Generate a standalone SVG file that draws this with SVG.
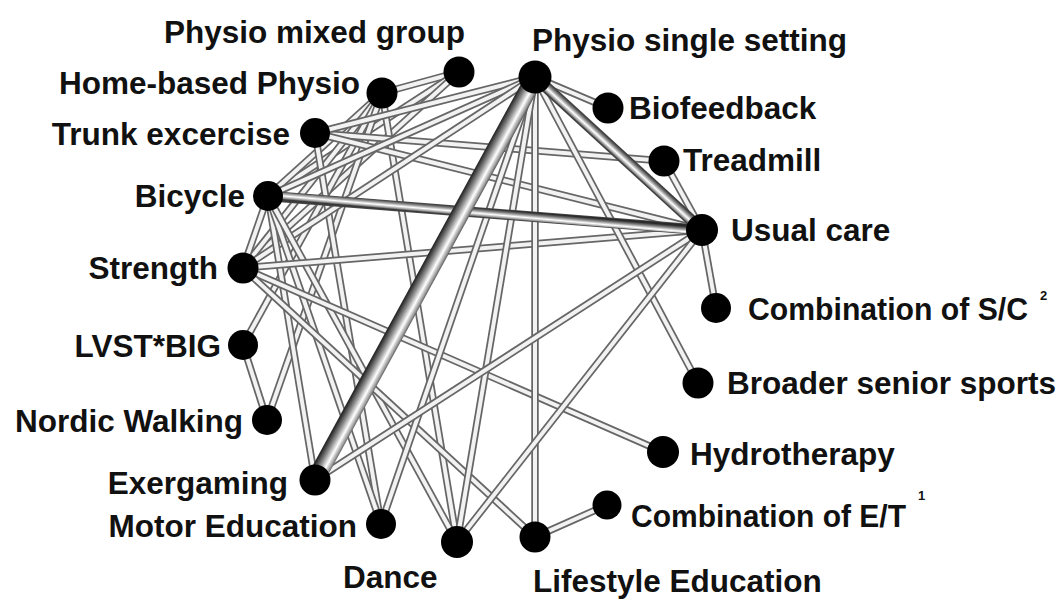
<svg xmlns="http://www.w3.org/2000/svg" width="1064" height="600" viewBox="0 0 1064 600">
<style>
.bg{fill:#ffffff}
.eo{stroke:#666666;stroke-width:7.5;fill:none;stroke-linecap:butt}
.ei{stroke:#f2f2f2;stroke-width:4;fill:none;stroke-linecap:butt}
.nd{fill:#000000}
.lb{font-family:"Liberation Sans",Arial,sans-serif;font-weight:bold;font-size:31.5px;fill:#111111}
.sup{font-family:"Liberation Sans",Arial,sans-serif;font-weight:bold;font-size:13px;fill:#111111}
.end{text-anchor:end}
</style>
<defs>
<linearGradient id="gEx" gradientUnits="userSpaceOnUse" x1="417.6" y1="275.2" x2="433.4" y2="283.8">
<stop offset="0" stop-color="#2a2a2a"/><stop offset="0.3" stop-color="#8a8a8a"/><stop offset="0.62" stop-color="#ffffff"/><stop offset="0.85" stop-color="#9a9a9a"/><stop offset="1" stop-color="#3a3a3a"/>
</linearGradient>
<linearGradient id="gUc" gradientUnits="userSpaceOnUse" x1="622.9" y1="150.3" x2="616.1" y2="157.7">
<stop offset="0" stop-color="#2a2a2a"/><stop offset="0.3" stop-color="#8a8a8a"/><stop offset="0.6" stop-color="#ffffff"/><stop offset="0.85" stop-color="#9a9a9a"/><stop offset="1" stop-color="#3a3a3a"/>
</linearGradient>
<linearGradient id="gBi" gradientUnits="userSpaceOnUse" x1="485.4" y1="208.5" x2="484.6" y2="217.5">
<stop offset="0" stop-color="#2a2a2a"/><stop offset="0.3" stop-color="#8a8a8a"/><stop offset="0.6" stop-color="#ffffff"/><stop offset="0.85" stop-color="#9a9a9a"/><stop offset="1" stop-color="#3a3a3a"/>
</linearGradient>
</defs>
<rect class="bg" x="0" y="0" width="1064" height="600"/>
<g id="connectors">
<g id="e-pss-bio"><line class="eo" x1="535" y1="77" x2="608" y2="108"/><line class="ei" x1="535" y1="77" x2="608" y2="108"/></g>
<g id="e-pmg-hbp"><line class="eo" x1="459" y1="72" x2="382" y2="93"/><line class="ei" x1="459" y1="72" x2="382" y2="93"/></g>
<g id="e-pmg-bic"><line class="eo" x1="459" y1="72" x2="268" y2="196"/><line class="ei" x1="459" y1="72" x2="268" y2="196"/></g>
<g id="e-pmg-str"><line class="eo" x1="459" y1="72" x2="243" y2="268"/><line class="ei" x1="459" y1="72" x2="243" y2="268"/></g>
<g id="e-hbp-bic"><line class="eo" x1="382" y1="93" x2="268" y2="196"/><line class="ei" x1="382" y1="93" x2="268" y2="196"/></g>
<g id="e-hbp-str"><line class="eo" x1="382" y1="93" x2="243" y2="268"/><line class="ei" x1="382" y1="93" x2="243" y2="268"/></g>
<g id="e-hbp-lvst"><line class="eo" x1="382" y1="93" x2="243" y2="345"/><line class="ei" x1="382" y1="93" x2="243" y2="345"/></g>
<g id="e-hbp-nw"><line class="eo" x1="382" y1="93" x2="267" y2="420"/><line class="ei" x1="382" y1="93" x2="267" y2="420"/></g>
<g id="e-hbp-dan"><line class="eo" x1="382" y1="93" x2="457" y2="542"/><line class="ei" x1="382" y1="93" x2="457" y2="542"/></g>
<g id="e-te-me"><line class="eo" x1="315" y1="133" x2="381" y2="524"/><line class="ei" x1="315" y1="133" x2="381" y2="524"/></g>
<g id="e-te-trm"><line class="eo" x1="315" y1="133" x2="664" y2="161"/><line class="ei" x1="315" y1="133" x2="664" y2="161"/></g>
<g id="e-te-uc"><line class="eo" x1="315" y1="133" x2="702" y2="230"/><line class="ei" x1="315" y1="133" x2="702" y2="230"/></g>
<g id="e-pss-te"><line class="eo" x1="535" y1="77" x2="315" y2="133"/><line class="ei" x1="535" y1="77" x2="315" y2="133"/></g>
<g id="e-pss-bic"><line class="eo" x1="535" y1="77" x2="268" y2="196"/><line class="ei" x1="535" y1="77" x2="268" y2="196"/></g>
<g id="e-pss-str"><line class="eo" x1="535" y1="77" x2="243" y2="268"/><line class="ei" x1="535" y1="77" x2="243" y2="268"/></g>
<g id="e-bic-str"><line class="eo" x1="268" y1="196" x2="243" y2="268"/><line class="ei" x1="268" y1="196" x2="243" y2="268"/></g>
<g id="e-bic-exg"><line class="eo" x1="268" y1="196" x2="315" y2="480"/><line class="ei" x1="268" y1="196" x2="315" y2="480"/></g>
<g id="e-bic-me"><line class="eo" x1="268" y1="196" x2="381" y2="524"/><line class="ei" x1="268" y1="196" x2="381" y2="524"/></g>
<g id="e-bic-dan"><line class="eo" x1="268" y1="196" x2="457" y2="542"/><line class="ei" x1="268" y1="196" x2="457" y2="542"/></g>
<g id="e-str-uc"><line class="eo" x1="243" y1="268" x2="702" y2="230"/><line class="ei" x1="243" y1="268" x2="702" y2="230"/></g>
<g id="e-str-hyd"><line class="eo" x1="243" y1="268" x2="663" y2="452"/><line class="ei" x1="243" y1="268" x2="663" y2="452"/></g>
<g id="e-str-le"><line class="eo" x1="243" y1="268" x2="535" y2="537"/><line class="ei" x1="243" y1="268" x2="535" y2="537"/></g>
<g id="e-lvst-nw"><line class="eo" x1="243" y1="345" x2="267" y2="420"/><line class="ei" x1="243" y1="345" x2="267" y2="420"/></g>
<g id="e-pss-le"><line class="eo" x1="535" y1="77" x2="535" y2="537"/><line class="ei" x1="535" y1="77" x2="535" y2="537"/></g>
<g id="e-pss-dan"><line class="eo" x1="535" y1="77" x2="457" y2="542"/><line class="ei" x1="535" y1="77" x2="457" y2="542"/></g>
<g id="e-pss-me"><line class="eo" x1="535" y1="77" x2="381" y2="524"/><line class="ei" x1="535" y1="77" x2="381" y2="524"/></g>
<g id="e-pss-bss"><line class="eo" x1="535" y1="77" x2="698" y2="383"/><line class="ei" x1="535" y1="77" x2="698" y2="383"/></g>
<g id="e-uc-trm"><line class="eo" x1="702" y1="230" x2="664" y2="161"/><line class="ei" x1="702" y1="230" x2="664" y2="161"/></g>
<g id="e-uc-csc"><line class="eo" x1="702" y1="230" x2="716" y2="308"/><line class="ei" x1="702" y1="230" x2="716" y2="308"/></g>
<g id="e-uc-exg"><line class="eo" x1="702" y1="230" x2="315" y2="480"/><line class="ei" x1="702" y1="230" x2="315" y2="480"/></g>
<g id="e-uc-dan"><line class="eo" x1="702" y1="230" x2="457" y2="542"/><line class="ei" x1="702" y1="230" x2="457" y2="542"/></g>
<g id="e-le-cet"><line class="eo" x1="535" y1="537" x2="607" y2="505"/><line class="ei" x1="535" y1="537" x2="607" y2="505"/></g>
<g id="e-bic-uc"><line stroke="#4a4a4a" stroke-width="10.5" x1="268" y1="196" x2="702" y2="230"/><line stroke="url(#gBi)" stroke-width="9" x1="268" y1="196" x2="702" y2="230"/></g>
<g id="e-pss-uc"><line stroke="#4a4a4a" stroke-width="11.5" x1="535" y1="77" x2="702" y2="230"/><line stroke="url(#gUc)" stroke-width="10" x1="535" y1="77" x2="702" y2="230"/></g>
<g id="e-pss-exg"><line stroke="url(#gEx)" stroke-width="18" x1="535" y1="77" x2="315" y2="480"/></g>
</g>
<g id="n-pmg"><circle class="nd" cx="459" cy="72" r="15.5"/><text class="lb end" x="465" y="43">Physio mixed group</text></g>
<g id="n-pss"><circle class="nd" cx="535" cy="77" r="16.5"/><text class="lb" x="532" y="51">Physio single setting</text></g>
<g id="n-hbp"><circle class="nd" cx="382" cy="93" r="15.5"/><text class="lb end" x="360" y="94">Home-based Physio</text></g>
<g id="n-bio"><circle class="nd" cx="608" cy="108" r="15.5"/><text class="lb" x="629" y="119">Biofeedback</text></g>
<g id="n-te"><circle class="nd" cx="315" cy="133" r="15"/><text class="lb end" x="290" y="145">Trunk excercise</text></g>
<g id="n-trm"><circle class="nd" cx="664" cy="161" r="15.5"/><text class="lb" x="683" y="171">Treadmill</text></g>
<g id="n-bic"><circle class="nd" cx="268" cy="196" r="15"/><text class="lb end" x="245" y="207">Bicycle</text></g>
<g id="n-uc"><circle class="nd" cx="702" cy="230" r="16"/><text class="lb" x="731" y="241">Usual care</text></g>
<g id="n-str"><circle class="nd" cx="243" cy="268" r="15.5"/><text class="lb end" x="218" y="279">Strength</text></g>
<g id="n-csc"><circle class="nd" cx="716" cy="308" r="15"/><text class="lb" x="748" y="320" textLength="280" lengthAdjust="spacingAndGlyphs">Combination of S/C</text><text class="sup" x="1040" y="300">2</text></g>
<g id="n-lvst"><circle class="nd" cx="243" cy="345" r="15"/><text class="lb end" x="221" y="357">LVST*BIG</text></g>
<g id="n-bss"><circle class="nd" cx="698" cy="383" r="15.5"/><text class="lb" x="727" y="394">Broader senior sports</text></g>
<g id="n-nw"><circle class="nd" cx="267" cy="420" r="15"/><text class="lb end" x="243" y="432">Nordic Walking</text></g>
<g id="n-hyd"><circle class="nd" cx="663" cy="452" r="16"/><text class="lb" x="690" y="465">Hydrotherapy</text></g>
<g id="n-exg"><circle class="nd" cx="315" cy="480" r="15.5"/><text class="lb end" x="288" y="494">Exergaming</text></g>
<g id="n-cet"><circle class="nd" cx="607" cy="505" r="14.5"/><text class="lb" x="631" y="527" textLength="275" lengthAdjust="spacingAndGlyphs">Combination of E/T</text><text class="sup" x="918" y="500">1</text></g>
<g id="n-me"><circle class="nd" cx="381" cy="524" r="15"/><text class="lb end" x="357" y="537">Motor Education</text></g>
<g id="n-dan"><circle class="nd" cx="457" cy="542" r="16"/><text class="lb" x="343" y="588">Dance</text></g>
<g id="n-le"><circle class="nd" cx="535" cy="537" r="15.5"/><text class="lb" x="533" y="592">Lifestyle Education</text></g>
</svg>
